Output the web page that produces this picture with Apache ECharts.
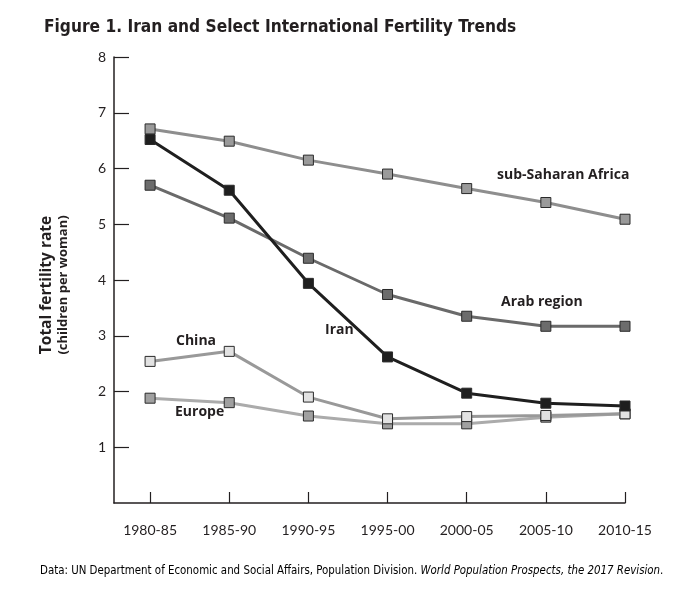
<!DOCTYPE html>
<html><head><meta charset="utf-8">
<script src="https://cdn.jsdelivr.net/npm/echarts@6/dist/echarts.min.js"></script>
<style>html,body{margin:0;padding:0;background:#fff}#c{width:694px;height:594px}</style>
</head><body><div id="c"></div>
<script>
const categories = ['1980-85','1985-90','1990-95','1995-00','2000-05','2005-10','2010-15'];
const yTicks = [1,2,3,4,5,6,7,8];
const subSaharan = [6.71, 6.49, 6.15, 5.90, 5.64, 5.39, 5.09];
const iran = [6.52, 5.61, 3.94, 2.62, 1.97, 1.79, 1.74];
const arab = [5.70, 5.11, 4.39, 3.74, 3.35, 3.17, 3.17];
const china = [2.54, 2.72, 1.90, 1.51, 1.55, 1.57, 1.60];
const europe = [1.88, 1.80, 1.56, 1.42, 1.42, 1.54, 1.60];

const chart = echarts.init(document.getElementById('c'));
const idx = categories.map((_, i) => i);
function mk(name, data, lineColor, fill, z) {
  return {
    name, type: 'line', z,
    data: data.map((v, i) => [i, v]),
    symbol: 'rect', symbolSize: 10,
    lineStyle: { color: lineColor, width: 3 },
    itemStyle: { color: fill, borderColor: '#2a2a2a', borderWidth: 1 },
    emphasis: { disabled: true }, animation: false
  };
}
const condensed = '"DejaVu Sans Condensed", "Liberation Sans Narrow", Lato, sans-serif';
chart.setOption({
  animation: false,
  grid: { left: 114, right: 69, top: 57, bottom: 91 },
  title: {
    text: 'Figure 1. Iran and Select International Fertility Trends',
    left: 39, top: 14,
    textStyle: { fontFamily: condensed, fontWeight: 'bold', fontSize: 17.2, color: '#231f20' }
  },
  xAxis: {
    type: 'value', min: -0.456, max: 6,
    axisLine: { show: true, onZero: false, lineStyle: { color: '#231f20', width: 1.5 } },
    axisTick: { show: true, inside: true, length: 11, customValues: idx, lineStyle: { color: '#231f20', width: 1.2 } },
    axisLabel: { customValues: idx, formatter: v => categories[Math.round(v)], margin: 20,
      fontFamily: 'Lato', fontSize: 14, color: '#231f20' },
    splitLine: { show: false }
  },
  yAxis: {
    type: 'value', min: 0, max: 8,
    axisLine: { show: true, onZero: false, lineStyle: { color: '#231f20', width: 1.5 } },
    axisTick: { show: true, inside: true, length: 15, customValues: yTicks, lineStyle: { color: '#231f20', width: 1.2 } },
    axisLabel: { customValues: yTicks, margin: 8, fontFamily: 'Lato', fontSize: 14, color: '#231f20' },
    splitLine: { show: false }
  },
  series: [
    mk('sub-Saharan Africa', subSaharan, '#8e8e8e', '#9a9a9a', 2),
    mk('Arab region', arab, '#6a6a6a', '#6c6c6c', 3),
    mk('Europe', europe, '#ababab', '#a0a0a0', 2),
    mk('China', china, '#999999', '#e2e2e2', 3),
    mk('Iran', iran, '#1f1f1f', '#1f1f1f', 4)
  ],
  graphic: [
    { type: 'text', x: 47, y: 285, rotation: Math.PI / 2, style: { text: 'Total fertility rate', font: 'bold 15.5px "Open Sans"', fill: '#231f20', align: 'center', verticalAlign: 'middle' } },
    { type: 'text', x: 63, y: 285, rotation: Math.PI / 2, style: { text: '(children per woman)', font: 'bold 13px "Open Sans"', fill: '#231f20', align: 'center', verticalAlign: 'middle' } },
    { type: 'text', x: 497, y: 168, style: { text: 'sub-Saharan Africa', font: 'bold 14px "Open Sans"', fill: '#231f20' } },
    { type: 'text', x: 501, y: 295, style: { text: 'Arab region', font: 'bold 14px "Open Sans"', fill: '#231f20' } },
    { type: 'text', x: 325, y: 323, style: { text: 'Iran', font: 'bold 14px "Open Sans"', fill: '#231f20' } },
    { type: 'text', x: 176, y: 334, style: { text: 'China', font: 'bold 14px "Open Sans"', fill: '#231f20' } },
    { type: 'text', x: 175, y: 405, style: { text: 'Europe', font: 'bold 14px "Open Sans"', fill: '#231f20' } },
    { type: 'text', x: 40, y: 566, style: {
      text: '{a|Data: UN Department of Economic and Social Affairs, Population Division. }{b|World Population Prospects, the 2017 Revision}{a|.}',
      rich: { a: { fontFamily: condensed, fontSize: 11.4, color: '#3a3a3a' },
              b: { fontFamily: condensed, fontSize: 11.4, fontStyle: 'italic', color: '#3a3a3a' } } } }
  ]
});
</script></body></html>
